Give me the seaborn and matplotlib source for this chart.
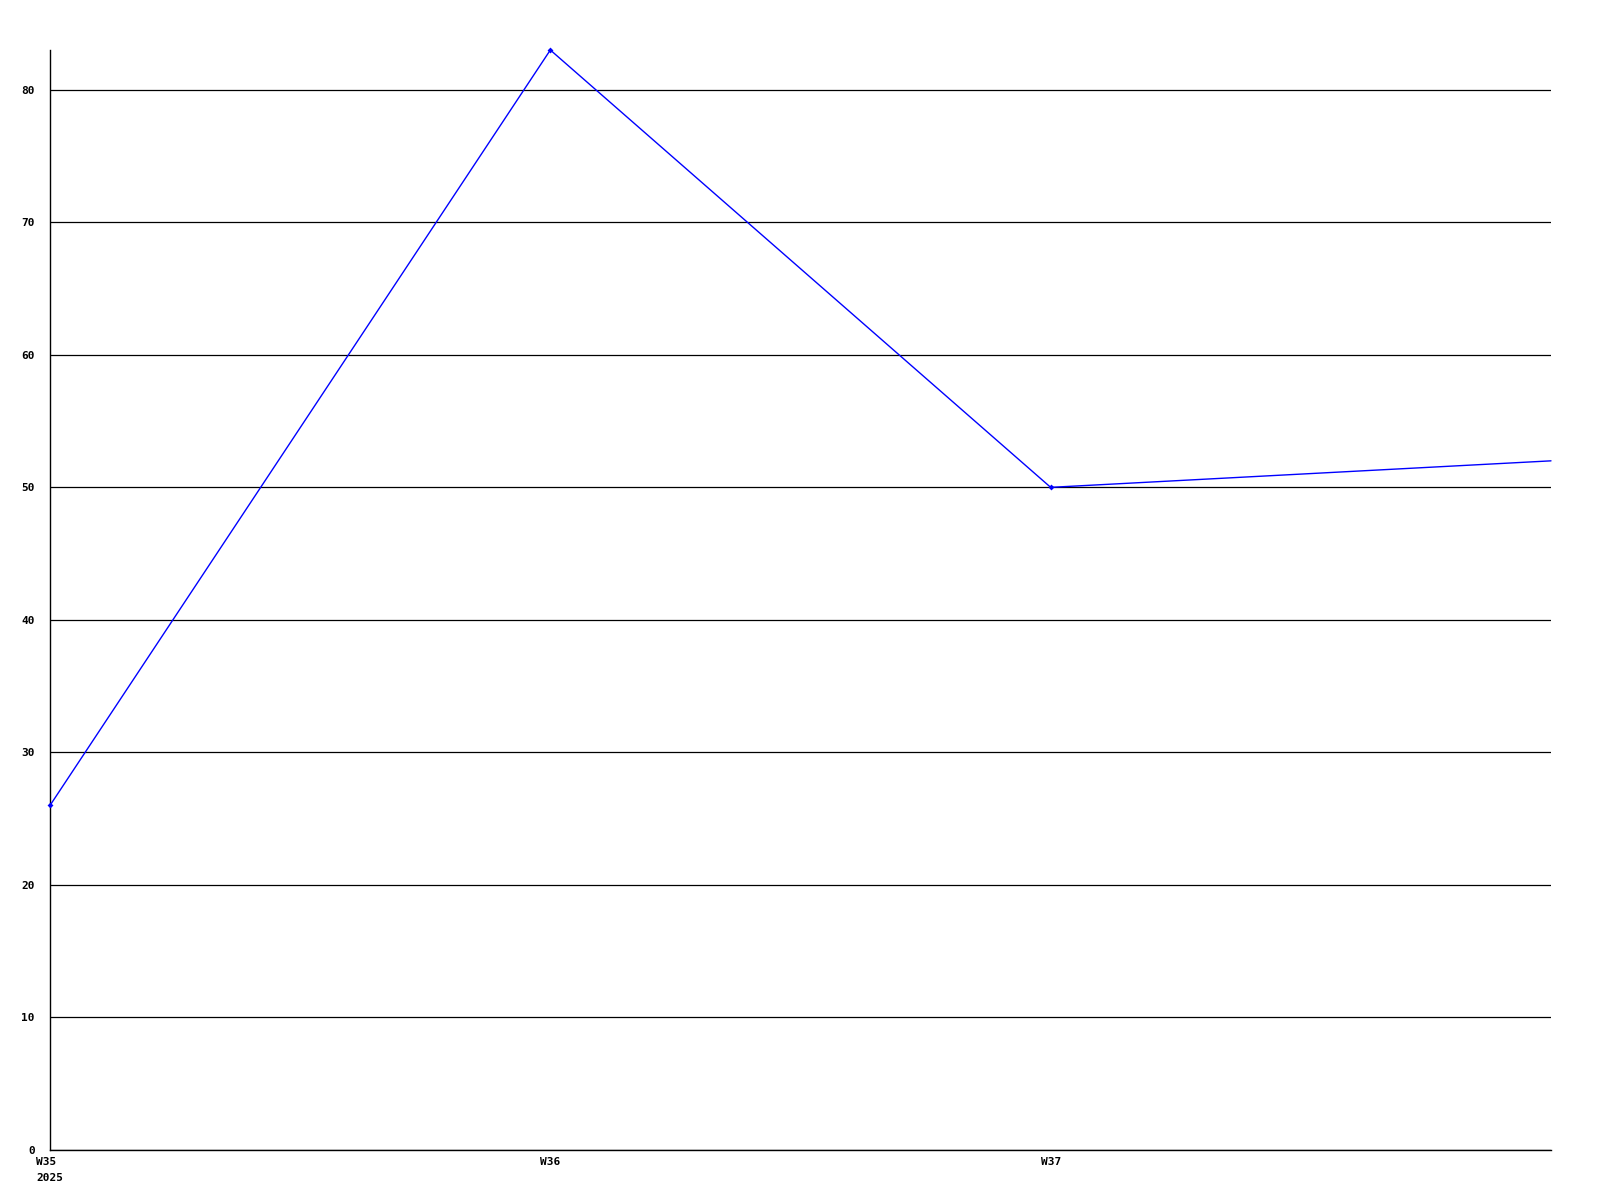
import matplotlib
matplotlib.use("Agg")
import matplotlib.pyplot as plt
import seaborn as sns
import pandas as pd

weeks = ["W35", "W36", "W37", "W38"]
values = [26, 83, 50, 52]
tick_labels = ["W35\n2025", "W36", "W37"]
y_ticks = [0, 10, 20, 30, 40, 50, 60, 70, 80]

sns.set_style("white")
plt.rcParams['font.family'] = ['DejaVu Sans Mono', 'DejaVu Sans']
plt.rcParams['text.color'] = 'black'
plt.rcParams['xtick.color'] = 'black'
plt.rcParams['ytick.color'] = 'black'

df = pd.DataFrame({"pos": range(len(weeks)), "week": weeks, "value": values})

fig = plt.figure(figsize=(16, 12), dpi=100)
ax = fig.add_axes([50/1600, 50/1200, (1551-50)/1600, 1100/1200])

sns.lineplot(data=df, x="pos", y="value", ax=ax, color="#0000ff", linewidth=1,
             marker="D", markersize=3, markevery=[0, 1, 2], markeredgewidth=0, zorder=3, clip_on=False)

ax.set_xlim(0, 3)
ax.set_ylim(0, 83)
ax.set_yticks(y_ticks)
ax.set_yticklabels([str(t) for t in y_ticks], fontsize=8, fontweight="bold")
ax.set_xticks([0, 1, 2])
ax.set_xticklabels(tick_labels, fontsize=8, fontweight="bold", ha="center",
                   multialignment="left", linespacing=1.7)
ax.tick_params(axis="both", length=0)
ax.tick_params(axis="y", pad=11)
ax.tick_params(axis="x", pad=5)
ax.grid(axis="y", color="black", linewidth=0.9)
ax.grid(axis="x", visible=False)
ax.set_axisbelow(True)
ax.set_xlabel("")
ax.set_ylabel("")
for s in ["top", "right"]:
    ax.spines[s].set_visible(False)
for s in ["left", "bottom"]:
    ax.spines[s].set_color("black")
    ax.spines[s].set_linewidth(1)

fig.savefig("out.png", dpi=100, facecolor="white")
